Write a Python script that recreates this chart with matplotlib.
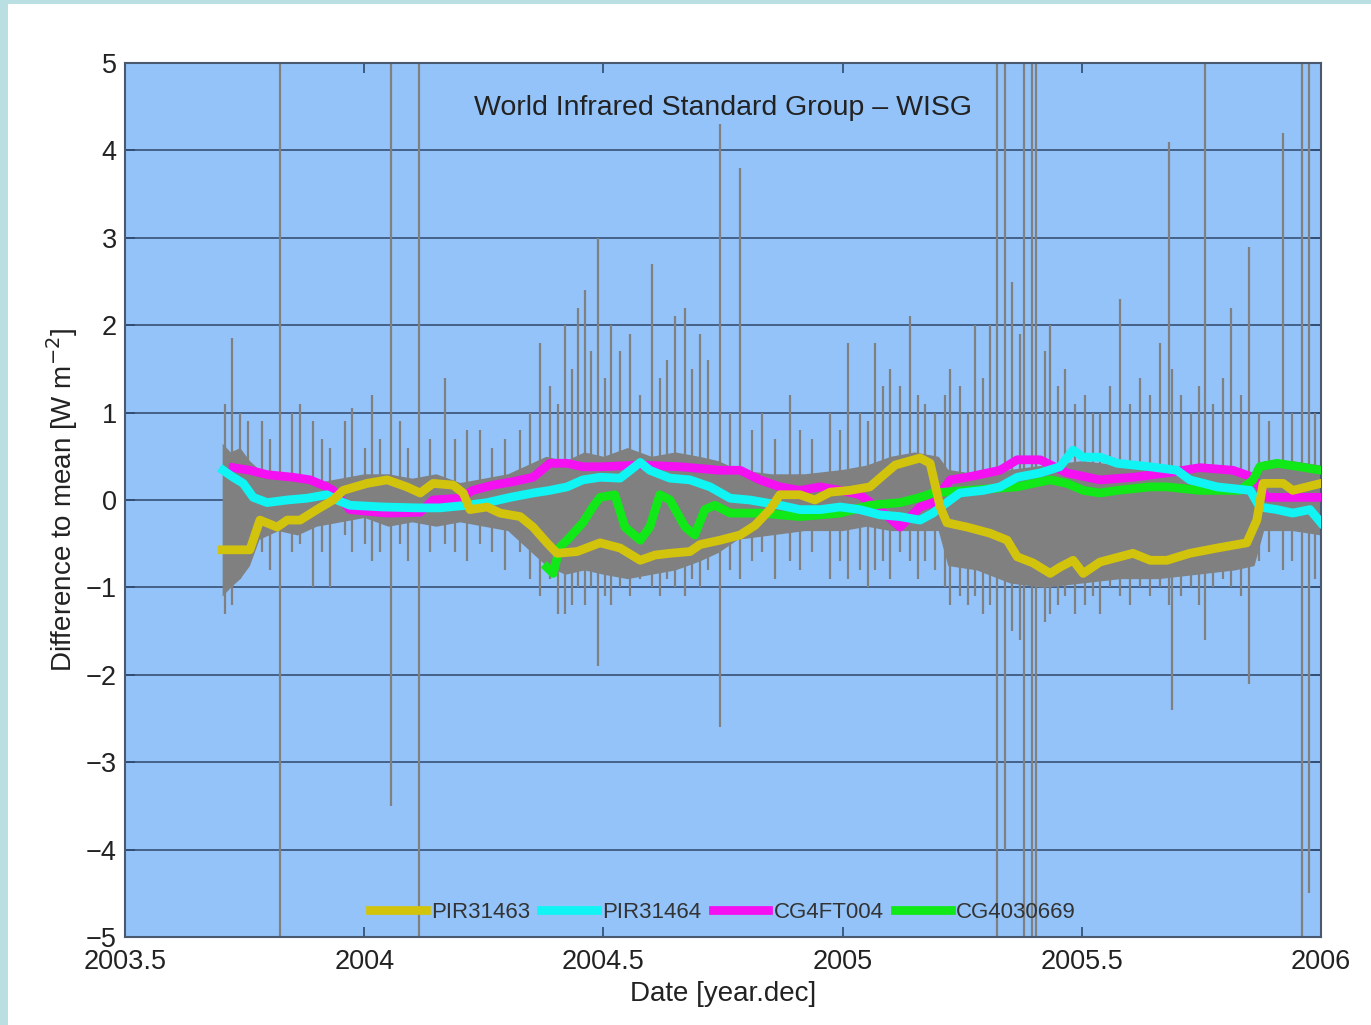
import numpy as np
import matplotlib.pyplot as plt
from matplotlib.patches import Rectangle

plt.rcParams['font.family'] = ['Liberation Sans', 'DejaVu Sans']

# ---- data ----
pir31463_t = [2003.703, 2003.761, 2003.782, 2003.818, 2003.839, 2003.866, 2003.901, 2003.935,
              2003.956, 2004.006, 2004.048, 2004.089, 2004.117, 2004.144, 2004.186, 2004.207,
              2004.221, 2004.257, 2004.284, 2004.326, 2004.353, 2004.382, 2004.403, 2004.445,
              2004.493, 2004.535, 2004.577, 2004.608, 2004.639, 2004.681, 2004.702, 2004.744,
              2004.786, 2004.817, 2004.848, 2004.869, 2004.911, 2004.942, 2004.974, 2005.015,
              2005.057, 2005.078, 2005.110, 2005.162, 2005.183, 2005.204, 2005.218, 2005.260,
              2005.308, 2005.344, 2005.365, 2005.398, 2005.434, 2005.454, 2005.482, 2005.503,
              2005.538, 2005.607, 2005.643, 2005.678, 2005.726, 2005.783, 2005.845, 2005.866,
              2005.879, 2005.921, 2005.941, 2006.000]
pir31463_v = [-0.57, -0.57, -0.23, -0.31, -0.23, -0.23, -0.11, 0.00,
              0.11, 0.19, 0.23, 0.15, 0.08, 0.19, 0.17, 0.08,
              -0.11, -0.08, -0.15, -0.19, -0.31, -0.49, -0.61, -0.59,
              -0.49, -0.55, -0.69, -0.63, -0.61, -0.59, -0.51, -0.46,
              -0.40, -0.29, -0.11, 0.06, 0.06, 0.00, 0.09, 0.11,
              0.15, 0.25, 0.40, 0.48, 0.42, -0.08, -0.26, -0.31,
              -0.38, -0.46, -0.65, -0.72, -0.84, -0.77, -0.69, -0.84,
              -0.71, -0.61, -0.69, -0.69, -0.61, -0.55, -0.49, -0.23,
              0.19, 0.19, 0.11, 0.19]

pir31464_t = [2003.705, 2003.726, 2003.747, 2003.768, 2003.797, 2003.839, 2003.880, 2003.922,
              2003.943, 2003.970, 2004.039, 2004.110, 2004.158, 2004.215, 2004.257, 2004.305,
              2004.353, 2004.388, 2004.424, 2004.457, 2004.493, 2004.535, 2004.577, 2004.597,
              2004.639, 2004.681, 2004.723, 2004.765, 2004.806, 2004.869, 2004.911, 2004.953,
              2004.995, 2005.036, 2005.078, 2005.120, 2005.162, 2005.189, 2005.225, 2005.245,
              2005.294, 2005.329, 2005.365, 2005.413, 2005.454, 2005.482, 2005.503, 2005.538,
              2005.574, 2005.643, 2005.699, 2005.726, 2005.783, 2005.852, 2005.872, 2005.908,
              2005.941, 2005.977, 2006.000]
pir31464_v = [0.34, 0.26, 0.19, 0.03, -0.03, 0.00, 0.02, 0.06,
              0.00, -0.06, -0.08, -0.09, -0.09, -0.06, -0.03, 0.03,
              0.08, 0.11, 0.15, 0.23, 0.26, 0.25, 0.43, 0.34,
              0.25, 0.23, 0.15, 0.02, 0.00, -0.06, -0.11, -0.11,
              -0.08, -0.11, -0.17, -0.19, -0.23, -0.15, 0.00, 0.08,
              0.11, 0.15, 0.26, 0.31, 0.38, 0.57, 0.49, 0.49,
              0.42, 0.38, 0.34, 0.23, 0.15, 0.11, -0.08, -0.11,
              -0.15, -0.11, -0.26]

cg4ft004_t = [2003.726, 2003.761, 2003.797, 2003.851, 2003.887, 2003.922, 2003.935, 2003.970,
              2004.048, 2004.117, 2004.144, 2004.200, 2004.227, 2004.269, 2004.311, 2004.353,
              2004.388, 2004.424, 2004.457, 2004.493, 2004.577, 2004.660, 2004.744, 2004.786,
              2004.827, 2004.869, 2004.911, 2004.953, 2004.995, 2005.036, 2005.078, 2005.120,
              2005.162, 2005.189, 2005.225, 2005.260, 2005.329, 2005.365, 2005.413, 2005.469,
              2005.538, 2005.607, 2005.678, 2005.747, 2005.816, 2005.858, 2005.887, 2005.956,
              2006.000]
cg4ft004_v = [0.37, 0.34, 0.29, 0.26, 0.23, 0.15, 0.11, -0.11,
              -0.15, -0.14, 0.00, 0.02, 0.11, 0.17, 0.21, 0.26,
              0.42, 0.42, 0.38, 0.38, 0.40, 0.38, 0.34, 0.34,
              0.23, 0.15, 0.11, 0.15, 0.11, 0.06, -0.11, -0.31,
              -0.08, -0.03, 0.23, 0.26, 0.34, 0.46, 0.46, 0.31,
              0.23, 0.26, 0.31, 0.37, 0.34, 0.26, 0.03, 0.03,
              0.03]

cg4030669_t = [2004.382, 2004.395, 2004.409, 2004.424, 2004.457, 2004.478, 2004.493, 2004.524,
               2004.545, 2004.577, 2004.597, 2004.618, 2004.639, 2004.671, 2004.691, 2004.712,
               2004.733, 2004.765, 2004.827, 2004.911, 2004.995, 2005.057, 2005.120, 2005.162,
               2005.189, 2005.260, 2005.365, 2005.398, 2005.434, 2005.469, 2005.503, 2005.538,
               2005.574, 2005.643, 2005.678, 2005.747, 2005.831, 2005.858, 2005.872, 2005.908,
               2005.956, 2006.000]
cg4030669_v = [-0.77, -0.84, -0.54, -0.46, -0.26, -0.08, 0.03, 0.06,
               -0.31, -0.46, -0.31, 0.06, 0.00, -0.31, -0.40, -0.11,
               -0.06, -0.15, -0.15, -0.19, -0.15, -0.06, -0.03, 0.03,
               0.08, 0.11, 0.15, 0.19, 0.23, 0.19, 0.11, 0.08,
               0.11, 0.15, 0.15, 0.11, 0.11, 0.23, 0.38, 0.42,
               0.38, 0.34]

# grey band of all single differences (dense core) and its spikes
band_t = [2003.703, 2003.720, 2003.740, 2003.760, 2003.780, 2003.820, 2003.860, 2003.900,
          2003.950, 2004.000, 2004.050, 2004.100, 2004.150, 2004.200, 2004.250, 2004.300,
          2004.340, 2004.380, 2004.420, 2004.460, 2004.500, 2004.550, 2004.600, 2004.650,
          2004.700, 2004.740, 2004.780, 2004.850, 2004.920, 2005.000, 2005.050, 2005.100,
          2005.150, 2005.200, 2005.220, 2005.280, 2005.350, 2005.420, 2005.500, 2005.580,
          2005.660, 2005.740, 2005.820, 2005.860, 2005.880, 2005.940, 2006.000]
band_hi = [0.65, 0.55, 0.60, 0.45, 0.35, 0.25, 0.30, 0.20,
           0.25, 0.30, 0.30, 0.25, 0.30, 0.20, 0.25, 0.30,
           0.40, 0.50, 0.45, 0.55, 0.50, 0.60, 0.50, 0.55,
           0.50, 0.45, 0.35, 0.30, 0.30, 0.35, 0.40, 0.50,
           0.55, 0.50, 0.35, 0.30, 0.35, 0.40, 0.45, 0.40,
           0.35, 0.35, 0.30, 0.30, 0.45, 0.45, 0.40]
band_lo = [-1.10, -1.00, -0.90, -0.75, -0.45, -0.35, -0.40, -0.30,
           -0.25, -0.20, -0.30, -0.25, -0.30, -0.25, -0.30, -0.35,
           -0.55, -0.75, -0.85, -0.80, -0.85, -0.90, -0.85, -0.80,
           -0.70, -0.60, -0.45, -0.40, -0.35, -0.35, -0.30, -0.35,
           -0.35, -0.35, -0.75, -0.80, -0.95, -1.00, -0.95, -0.90,
           -0.90, -0.85, -0.80, -0.75, -0.35, -0.35, -0.40]

spike_t = [2003.709, 2003.724, 2003.740, 2003.757, 2003.786, 2003.803, 2003.824, 2003.849,
           2003.866, 2003.893, 2003.912, 2003.929, 2003.960, 2003.975, 2004.002, 2004.016,
           2004.033, 2004.056, 2004.075, 2004.092, 2004.115, 2004.138, 2004.169, 2004.190,
           2004.215, 2004.243, 2004.268, 2004.295, 2004.326, 2004.347, 2004.368, 2004.389,
           2004.405, 2004.420, 2004.434, 2004.447, 2004.461, 2004.474, 2004.489, 2004.504,
           2004.516, 2004.535, 2004.556, 2004.577, 2004.602, 2004.618, 2004.633, 2004.650,
           2004.671, 2004.685, 2004.702, 2004.719, 2004.744, 2004.765, 2004.786, 2004.811,
           2004.832, 2004.859, 2004.890, 2004.911, 2004.936, 2004.974, 2004.995, 2005.011,
           2005.036, 2005.053, 2005.068, 2005.085, 2005.099, 2005.120, 2005.141, 2005.158,
           2005.172, 2005.193, 2005.214, 2005.225, 2005.245, 2005.262, 2005.277, 2005.294,
           2005.308, 2005.323, 2005.340, 2005.354, 2005.371, 2005.379, 2005.396, 2005.405,
           2005.424, 2005.434, 2005.451, 2005.465, 2005.486, 2005.507, 2005.524, 2005.538,
           2005.559, 2005.580, 2005.601, 2005.622, 2005.643, 2005.664, 2005.682, 2005.688,
           2005.707, 2005.728, 2005.745, 2005.757, 2005.774, 2005.795, 2005.812, 2005.833,
           2005.849, 2005.870, 2005.891, 2005.921, 2005.940, 2005.960, 2005.975, 2005.987]
spike_hi = [1.1, 1.85, 1.0, 0.9, 0.9, 0.7, 5.0, 1.0,
            1.1, 0.9, 0.7, 0.6, 0.9, 1.05, 0.6, 1.2,
            0.7, 5.0, 0.9, 0.6, 5.0, 0.7, 1.4, 0.7,
            0.8, 0.8, 0.6, 0.7, 0.8, 1.0, 1.8, 1.3,
            1.1, 2.0, 1.5, 2.2, 2.4, 1.7, 3.0, 1.4,
            2.0, 1.7, 1.9, 1.2, 2.7, 1.4, 1.6, 2.1,
            2.2, 1.5, 1.9, 1.6, 4.3, 1.0, 3.8, 0.8,
            1.0, 0.7, 1.2, 0.8, 0.7, 1.0, 0.8, 1.8,
            1.0, 0.9, 1.8, 1.3, 1.5, 1.3, 2.1, 1.2,
            1.1, 1.0, 1.2, 1.5, 1.3, 1.0, 2.0, 1.4,
            2.0, 5.0, 5.0, 2.5, 1.9, 5.0, 5.0, 5.0,
            1.7, 2.0, 1.3, 1.5, 1.1, 1.2, 1.0, 1.0,
            1.3, 2.3, 1.1, 1.4, 1.2, 1.8, 4.1, 1.5,
            1.2, 1.0, 1.3, 5.0, 1.1, 1.4, 2.2, 1.2,
            2.9, 1.0, 0.9, 4.2, 1.0, 5.0, 5.0, 1.0]
spike_lo = [-1.3, -1.2, -0.9, -0.7, -0.6, -0.8, -5.0, -0.6,
            -0.5, -1.0, -0.6, -1.0, -0.4, -0.6, -0.5, -0.7,
            -0.6, -3.5, -0.5, -0.7, -5.0, -0.6, -0.5, -0.6,
            -0.7, -0.5, -0.6, -0.8, -0.6, -0.9, -1.1, -0.9,
            -1.3, -1.3, -1.2, -1.0, -1.2, -1.0, -1.9, -1.1,
            -1.2, -1.0, -1.1, -0.9, -1.0, -1.1, -0.9, -1.0,
            -1.1, -0.9, -1.0, -0.8, -2.6, -0.8, -0.9, -0.7,
            -0.6, -0.9, -0.7, -0.8, -0.6, -0.9, -0.7, -0.9,
            -0.8, -1.0, -0.8, -0.7, -0.9, -0.6, -0.7, -0.9,
            -0.7, -0.8, -1.0, -1.2, -1.1, -1.2, -1.1, -1.3,
            -1.2, -5.0, -4.0, -1.5, -1.6, -5.0, -5.0, -5.0,
            -1.4, -1.3, -1.2, -1.1, -1.3, -1.2, -1.1, -1.3,
            -1.0, -1.1, -1.2, -1.0, -1.1, -1.0, -1.2, -2.4,
            -1.1, -1.0, -1.2, -1.6, -1.0, -0.9, -1.0, -1.1,
            -2.1, -0.7, -0.6, -0.8, -0.7, -5.0, -4.5, -0.9]

names = ['PIR31463', 'PIR31464', 'CG4FT004', 'CG4030669']
colors = ['#d2c40c', '#10f4f4', '#f410f0', '#10e818']
xticks = [2003.5, 2004, 2004.5, 2005, 2005.5, 2006]
xticklabels = ['2003.5', '2004', '2004.5', '2005', '2005.5', '2006']
yticks = [-5, -4, -3, -2, -1, 0, 1, 2, 3, 4, 5]

fig = plt.figure(figsize=(13.71, 10.25), dpi=100, facecolor='#b9dfe2')
fig.patches.append(Rectangle((8 / 1371, 0), 1, 1 - 4 / 1025, transform=fig.transFigure,
                             facecolor='white', edgecolor='none', zorder=-10))
ax = fig.add_axes([0.0912, 0.0859, 0.8723, 0.8526])
ax.set_facecolor('#93c3f8')

# grey differences
ax.fill_between(band_t, band_lo, band_hi, color='#808080', lw=0, zorder=2)
ax.vlines(spike_t, spike_lo, spike_hi, color='#808080', lw=1.6, zorder=2)

series = [(pir31463_t, pir31463_v), (pir31464_t, pir31464_v),
          (cg4ft004_t, cg4ft004_v), (cg4030669_t, cg4030669_v)]
handles = [None] * 4
for i in [2, 3, 1, 0]:
    t, v = series[i]
    handles[i], = ax.plot(t, v, color=colors[i], lw=6.3, label=names[i], zorder=3,
                          solid_joinstyle='round')

ax.set_xlim(2003.5, 2006)
ax.set_ylim(-5, 5)
ax.set_xticks(xticks)
ax.set_xticklabels(xticklabels)
ax.set_yticks(yticks)
ax.yaxis.grid(True, color='#3e5a80', lw=1.3)
ax.set_axisbelow(True)
ax.tick_params(direction='in', length=7, width=1.2, color='#2e4a70', labelsize=19.5,
               labelcolor='#222222', top=True, right=True, pad=6)
ax.tick_params(axis='x', pad=9)
for s in ax.spines.values():
    s.set_color('#4a5870')
    s.set_linewidth(1.5)

ax.text(0.5, 0.949, 'World Infrared Standard Group \u2013 WISG', transform=ax.transAxes,
        ha='center', va='center', fontsize=20.5, color='#222222')
ax.set_xlabel('Date [year.dec]', fontsize=20, color='#222222', labelpad=4)
ax.set_ylabel('Difference to mean [W m$^{-2}$]', fontsize=20, color='#222222', labelpad=4)

leg = ax.legend(handles=handles, loc='center', bbox_to_anchor=(0.5, 0.028), ncol=4,
                frameon=False, fontsize=16, handlelength=2.5, handletextpad=0.25,
                columnspacing=0.5, labelcolor='#333333')

fig.savefig('out.png', dpi=100, facecolor=fig.get_facecolor())
